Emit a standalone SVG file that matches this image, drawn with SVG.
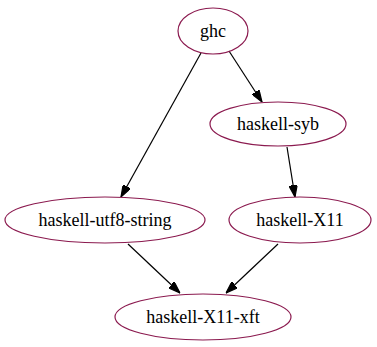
<svg xmlns="http://www.w3.org/2000/svg" width="377" height="347" viewBox="0 0 377 347">
  <style>
    .node ellipse { fill: none; stroke: #8b1a4f; stroke-width: 1.2; }
    .node text { font-family: "Liberation Serif", "DejaVu Serif", "Times New Roman", serif; font-size: 18px; fill: #000; text-anchor: middle; }
    .edge { stroke: #000; stroke-width: 1.2; fill: none; marker-end: url(#arrow); }
  </style>
  <defs>
    <marker id="arrow" viewBox="0 0 10 7" refX="10" refY="3.5" markerWidth="12" markerHeight="8.5" markerUnits="userSpaceOnUse" orient="auto">
      <path d="M0,0 L10,3.5 L0,7 Z" fill="#000" stroke="#000" stroke-width="1"/>
    </marker>
  </defs>
  <rect width="377" height="347" fill="#fff"/>
  <g id="edges">
    <line class="edge" x1="201" y1="53" x2="121" y2="197"/>
    <line class="edge" x1="229" y1="51" x2="262" y2="102"/>
    <line class="edge" x1="287" y1="147" x2="295" y2="197"/>
    <line class="edge" x1="128" y1="244" x2="180" y2="293"/>
    <line class="edge" x1="278" y1="244" x2="226" y2="293"/>
  </g>
  <g id="ghc" class="node">
    <ellipse cx="213" cy="31" rx="35" ry="23"/>
    <text x="213" y="37">ghc</text>
  </g>
  <g id="haskell-syb" class="node">
    <ellipse cx="278" cy="124" rx="68" ry="22"/>
    <text x="278" y="130">haskell-syb</text>
  </g>
  <g id="haskell-utf8-string" class="node">
    <ellipse cx="105" cy="220" rx="100" ry="23"/>
    <text x="105" y="226">haskell-utf8-string</text>
  </g>
  <g id="haskell-X11" class="node">
    <ellipse cx="300" cy="220" rx="71" ry="23"/>
    <text x="300" y="226">haskell-X11</text>
  </g>
  <g id="haskell-X11-xft" class="node">
    <ellipse cx="203" cy="317" rx="88" ry="23"/>
    <text x="203" y="323">haskell-X11-xft</text>
  </g>
</svg>
